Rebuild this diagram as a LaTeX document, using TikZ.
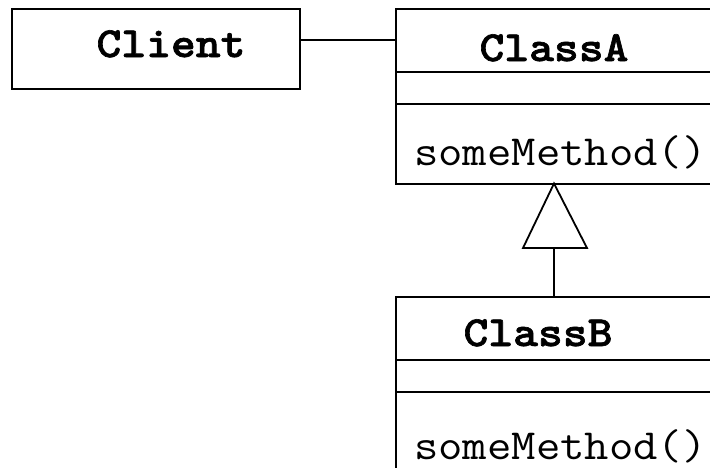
\documentclass[tikz,border=0pt]{standalone}
\usepackage{fontspec}
\newfontfamily\courreg{Latin Modern Mono}[FakeStretch=1.1]
\newfontfamily\courbold{lmmonolt10-bold.otf}[FakeStretch=1.1,FakeBold=1.5]
\begin{document}
\begin{tikzpicture}[x=1pt,y=-1pt,
  box/.style={draw=black,line width=1.8pt},
  lbl/.style={font=\fontsize{43}{43}\selectfont\courbold,anchor=base,inner sep=0pt},
  mth/.style={font=\fontsize{43}{43}\selectfont\courreg,anchor=base west,inner sep=0pt},
  conn/.style={line width=1.8pt}]
\clip (0,0) rectangle (710,467);
\useasboundingbox (0,0) rectangle (710,467);
% Client
\node[box,minimum width=288pt,minimum height=80pt,anchor=north west,inner sep=0pt] (client) at (11,8) {};
\node[lbl] (clienttxt) at (171,57) {Client};
% ClassA
\node[box,minimum width=360pt,minimum height=175pt,anchor=north west,inner sep=0pt] (classA) at (395,8) {};
\draw[conn] (395,72) -- (760,72);
\draw[conn] (395,104) -- (760,104);
\node[lbl] (classAtxt) at (554,61) {ClassA};
\node[mth] (mA) at (414,165) {someMethod()};
% ClassB
\node[box,minimum width=360pt,minimum height=200pt,anchor=north west,inner sep=0pt] (classB) at (395,296) {};
\draw[conn] (395,360) -- (760,360);
\draw[conn] (395,392) -- (760,392);
\node[lbl] (classBtxt) at (538,346) {ClassB};
\node[mth] (mB) at (414,459) {someMethod()};
% association
\draw[conn] (client.east |- 0,40) -- (classA.west |- 0,40);
% generalization
\coordinate (apex) at (554,183.5);
\coordinate (base) at (554,248);
\draw[conn,line join=miter] (apex) -- (523,248) -- (587,248) -- cycle;
\draw[conn] (base) -- (554,296);
\end{tikzpicture}
\end{document}
